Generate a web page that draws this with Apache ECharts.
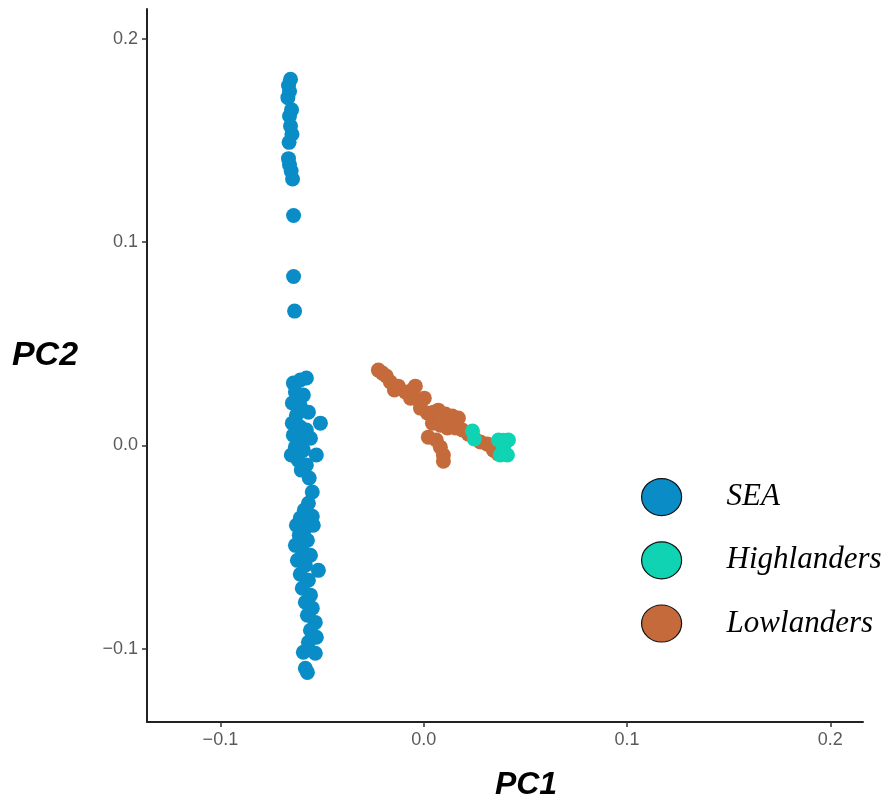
<!DOCTYPE html>
<html>
	<head>
		<meta charset="utf-8">
		<title>PCA scatter</title>
		<script src="https://cdn.jsdelivr.net/npm/echarts@6/dist/echarts.min.js"></script>
	</head>
	<body style="margin:0">
		<div id="main" style="width: 887px;height:803px;"></div>

		<script type="text/javascript">
			// PC1 / PC2 ticks
			var xTicks = [-0.1, 0.0, 0.1, 0.2];
			var yTicks = [-0.1, 0.0, 0.1, 0.2];
			var groups = ['SEA', 'Highlanders', 'Lowlanders'];

			// [PC1, PC2]
			var seaPoints = [
				[-0.0655, 0.180], [-0.0665, 0.177], [-0.0660, 0.174], [-0.0668, 0.171],
				[-0.0650, 0.165], [-0.0660, 0.162], [-0.0655, 0.157], [-0.0648, 0.153],
				[-0.0662, 0.149], [-0.0665, 0.141], [-0.0660, 0.138], [-0.0652, 0.135],
				[-0.0645, 0.131], [-0.0640, 0.113], [-0.0640, 0.083], [-0.0635, 0.066],
				[-0.0641, 0.0306], [-0.0607, 0.0321], [-0.0577, 0.0331], [-0.0631, 0.0262],
				[-0.0592, 0.0247], [-0.0646, 0.0208], [-0.0607, 0.0193], [-0.0567, 0.0163],
				[-0.0626, 0.0148], [-0.0508, 0.0109], [-0.0646, 0.0109], [-0.0607, 0.0090],
				[-0.0577, 0.0075], [-0.0641, 0.0050], [-0.0597, 0.0026], [-0.0557, 0.0035],
				[-0.0631, -0.0009], [-0.0592, -0.0024], [-0.0651, -0.0048], [-0.0528, -0.0048],
				[-0.0617, -0.0073], [-0.0577, -0.0097], [-0.0602, -0.0122], [-0.0563, -0.0161],
				[-0.0548, -0.0230], [-0.0567, -0.0285], [-0.0587, -0.0319], [-0.0607, -0.0358],
				[-0.0548, -0.0349], [-0.0626, -0.0393], [-0.0582, -0.0408], [-0.0543, -0.0393],
				[-0.0612, -0.0442], [-0.0572, -0.0467], [-0.0631, -0.0492], [-0.0597, -0.0517],
				[-0.0557, -0.0541], [-0.0621, -0.0566], [-0.0582, -0.0590], [-0.0518, -0.0615],
				[-0.0607, -0.0634], [-0.0567, -0.0664], [-0.0597, -0.0703], [-0.0557, -0.0737],
				[-0.0582, -0.0772], [-0.0548, -0.0801], [-0.0572, -0.0836], [-0.0533, -0.0871],
				[-0.0557, -0.0910], [-0.0528, -0.0944], [-0.0567, -0.0969], [-0.0592, -0.1018],
				[-0.0533, -0.1023], [-0.0572, -0.1117], [-0.0582, -0.1097]
			];
			var lowlanderPoints = [
				[-0.0223, 0.0370], [-0.0203, 0.0355], [-0.0184, 0.0341], [-0.0164, 0.0311],
				[-0.0144, 0.0272], [-0.0125, 0.0291], [-0.0090, 0.0262], [-0.0056, 0.0272],
				[-0.0041, 0.0291], [-0.0065, 0.0232], [-0.0026, 0.0223], [0.0003, 0.0232],
				[-0.0016, 0.0183], [0.0018, 0.0159], [0.0048, 0.0163], [0.0072, 0.0173],
				[0.0107, 0.0154], [0.0141, 0.0144], [0.0171, 0.0134], [0.0043, 0.0109],
				[0.0082, 0.0099], [0.0117, 0.0085], [0.0156, 0.0085], [0.0190, 0.0075],
				[0.0220, 0.0055], [0.0249, 0.0035], [0.0279, 0.0016], [0.0313, 0.0006],
				[0.0343, -0.0024], [0.0367, -0.0043], [0.0023, 0.0040], [0.0062, 0.0026],
				[0.0082, -0.0009], [0.0097, -0.0048], [0.0097, -0.0078]
			];
			var highlanderPoints = [
				[0.0240, 0.0070], [0.0249, 0.0031], [0.0368, 0.0026], [0.0417, 0.0026],
				[0.0377, -0.0048], [0.0412, -0.0048], [0.0392, -0.0009], [0.0392, 0.0025],
				[0.0395, -0.0040]
			];

			var colors = {SEA: '#0a8dc7', Highlanders: '#0fd3b2', Lowlanders: '#c56b3b'};

			function fmt(v) {
				return v.toFixed(1).replace('-', '\u2212');
			}

			var myChart = echarts.init(document.getElementById('main'));
			var option = {
				animation: false,
				grid: {left: 147, right: 24, top: 9, bottom: 81, containLabel: false, outerBoundsMode: 'none'},
				legend: {
					data: groups,
					orient: 'vertical',
					left: 641,
					top: 478,
					padding: 0,
					icon: 'path://M20,0A20,18.5 0 1,1 20,37A20,18.5 0 1,1 20,0Z',
					itemWidth: 40,
					itemHeight: 37,
					itemGap: 25,
					itemStyle: {borderColor: '#111', borderWidth: 1.2},
					textStyle: {
						fontFamily: 'Liberation Serif',
						fontStyle: 'italic',
						fontSize: 31,
						color: '#000',
						padding: [0, 0, 0, 40]
					}
				},
				xAxis: {
					type: 'value',
					min: -0.1361,
					max: 0.2161,
					name: 'PC1',
					nameLocation: 'middle',
					nameGap: 63,
					nameTextStyle: {
						fontFamily: 'Liberation Sans', fontWeight: 'bold', fontStyle: 'italic',
						fontSize: 32, color: '#000', verticalAlign: 'middle', padding: [0, 0, 0, 42]
					},
					splitLine: {show: false},
					axisLine: {onZero: false, lineStyle: {color: '#222', width: 2}},
					axisTick: {show: true, customValues: xTicks, length: 5, lineStyle: {color: '#333', width: 1.5}},
					axisLabel: {
						customValues: xTicks, formatter: fmt, margin: 9,
						fontFamily: 'Liberation Sans', fontSize: 18, color: '#5a5a5a'
					}
				},
				yAxis: {
					type: 'value',
					min: -0.1361,
					max: 0.2146,
					name: 'PC2',
					nameLocation: 'middle',
					nameRotate: 0,
					nameGap: 102,
					nameTextStyle: {
						fontFamily: 'Liberation Sans', fontWeight: 'bold', fontStyle: 'italic',
						fontSize: 34, color: '#000', align: 'center', verticalAlign: 'bottom',
						lineHeight: 20
					},
					splitLine: {show: false},
					axisLine: {show: true, onZero: false, lineStyle: {color: '#222', width: 2}},
					axisTick: {show: true, customValues: yTicks, length: 5, lineStyle: {color: '#333', width: 1.5}},
					axisLabel: {
						customValues: yTicks, formatter: fmt, margin: 9,
						fontFamily: 'Liberation Sans', fontSize: 18, color: '#5a5a5a'
					}
				},
				series: [
					{name: 'SEA', type: 'scatter', data: seaPoints, symbolSize: 15,
						itemStyle: {color: colors.SEA, opacity: 1}},
					{name: 'Lowlanders', type: 'scatter', data: lowlanderPoints, symbolSize: 15,
						itemStyle: {color: colors.Lowlanders, opacity: 1}},
					{name: 'Highlanders', type: 'scatter', data: highlanderPoints, symbolSize: 15,
						itemStyle: {color: colors.Highlanders, opacity: 1}}
				]
			};

			myChart.setOption(option);
		</script>
	</body>
</html>
